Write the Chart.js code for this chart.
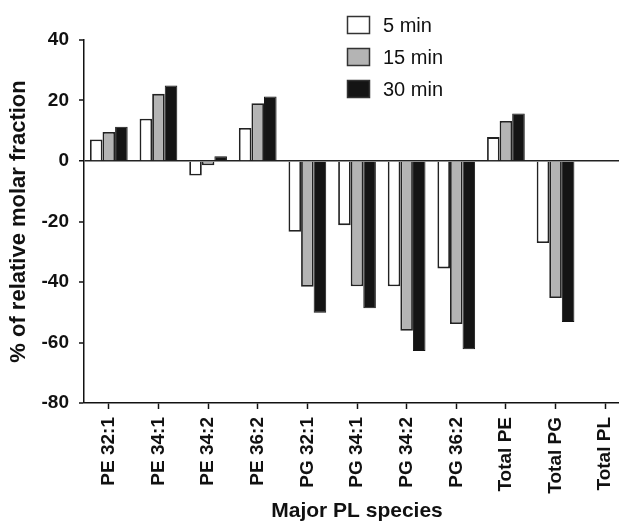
<!DOCTYPE html>
<html>
<head>
<meta charset="utf-8">
<script src="https://cdn.jsdelivr.net/npm/chart.js@4/dist/chart.umd.min.js"></script>
<style>
  html, body { margin: 0; padding: 0; background: #fff; }
  #wrap { width: 619px; height: 524px; overflow: hidden; position: relative; }
  #box { width: 640px; height: 524px; position: absolute; left: 0; top: 0; }
</style>
</head>
<body>
<div id="wrap"><div id="box"><canvas id="myChart"></canvas></div></div>
<script>
// data
const categories = ['PE 32:1', 'PE 34:1', 'PE 34:2', 'PE 36:2', 'PG 32:1', 'PG 34:1',
  'PG 34:2', 'PG 36:2', 'Total PE', 'Total PG', 'Total PL'];
const min5 = [7.1, 14.0, -4.8, 10.9, -23.4, -21.2, -41.4, -35.5, 7.9, -27.1, null];
const min15 = [9.6, 22.2, -1.4, 19.1, -41.6, -41.4, -56.1, -53.9, 13.2, -45.3, null];
const min30 = [11.3, 25.0, 1.6, 21.3, -50.2, -48.7, -62.8, -62.2, 15.7, -53.2, null];
const yTicks = [40, 20, 0, -20, -40, -60, -80];

// legend drawn inside the plot, top right
const boxLegend = {
  id: 'boxLegend',
  afterDraw(chart) {
    const ctx = chart.ctx;
    ctx.save();
    ctx.font = '20px Arial, "Liberation Sans", sans-serif';
    ctx.textBaseline = 'middle';
    chart.data.datasets.forEach(function (ds, i) {
      const y = 16 + i * 32;
      ctx.fillStyle = ds.backgroundColor;
      ctx.fillRect(347, y, 23, 18);
      ctx.strokeStyle = '#333';
      ctx.lineWidth = 1.5;
      ctx.strokeRect(347.5, y + 0.5, 22, 17);
      ctx.fillStyle = '#111';
      ctx.fillText(ds.label, 383, y + 10);
    });
    ctx.restore();
  }
};

document.addEventListener('DOMContentLoaded', function () {
  const ctx = document.getElementById('myChart');
  new Chart(ctx, {
    type: 'bar',
    data: {
      labels: categories,
      datasets: [
        { label: '5 min', data: min5, backgroundColor: '#ffffff', borderColor: '#222', borderWidth: 1.8 },
        { label: '15 min', data: min15, backgroundColor: '#b4b4b4', borderColor: '#222', borderWidth: 1.8 },
        { label: '30 min', data: min30, backgroundColor: '#141414', borderColor: '#141414', borderWidth: 1 },
      ],
    },
    options: {
      responsive: true,
      maintainAspectRatio: false,
      animation: false,
      layout: { padding: { top: 40, right: 10, left: 6, bottom: 0 } },
      datasets: { bar: { categoryPercentage: 0.76, barPercentage: 1.0 } },
      plugins: { legend: { display: false }, tooltip: { enabled: false } },
      scales: {
        x: {
          offset: true,
          grid: { offset: false, drawOnChartArea: false, drawTicks: true, tickLength: 6, tickColor: '#111', tickWidth: 1.5 },
          border: { display: true, color: '#111', width: 1.5 },
          ticks: {
            color: '#111', autoSkip: false, minRotation: 90, maxRotation: 90, padding: 8,
            font: { family: 'Arial, "Liberation Sans", sans-serif', size: 19, weight: 'bold' }
          },
          title: {
            display: true, text: 'Major PL species', color: '#111', padding: { top: 2, bottom: 0 },
            font: { family: 'Arial, "Liberation Sans", sans-serif', size: 21, weight: 'bold' }
          },
          afterFit: function (scale) { scale.height = 121; }
        },
        y: {
          min: -80,
          max: 40,
          afterBuildTicks: function (scale) { scale.ticks = yTicks.map(function (v) { return { value: v }; }); },
          grid: {
            drawTicks: true, tickLength: 5, tickColor: '#111', tickWidth: 1.5,
            color: function (c) { return c.tick && c.tick.value === 0 ? '#222' : 'rgba(0,0,0,0)'; },
            lineWidth: function (c) { return c.tick && c.tick.value === 0 ? 1.5 : 0; }
          },
          border: { display: true, color: '#111', width: 1.5 },
          ticks: {
            color: '#111', padding: 10,
            font: { family: 'Arial, "Liberation Sans", sans-serif', size: 19, weight: 'bold' }
          },
          title: {
            display: true, text: '% of relative molar fraction', color: '#111', padding: 0,
            font: { family: 'Arial, "Liberation Sans", sans-serif', size: 22, weight: 'bold' }
          },
          afterFit: function (scale) { scale.width = 78; }
        },
      },
    },
    plugins: [boxLegend],
  });
});
</script>
</body>
</html>
